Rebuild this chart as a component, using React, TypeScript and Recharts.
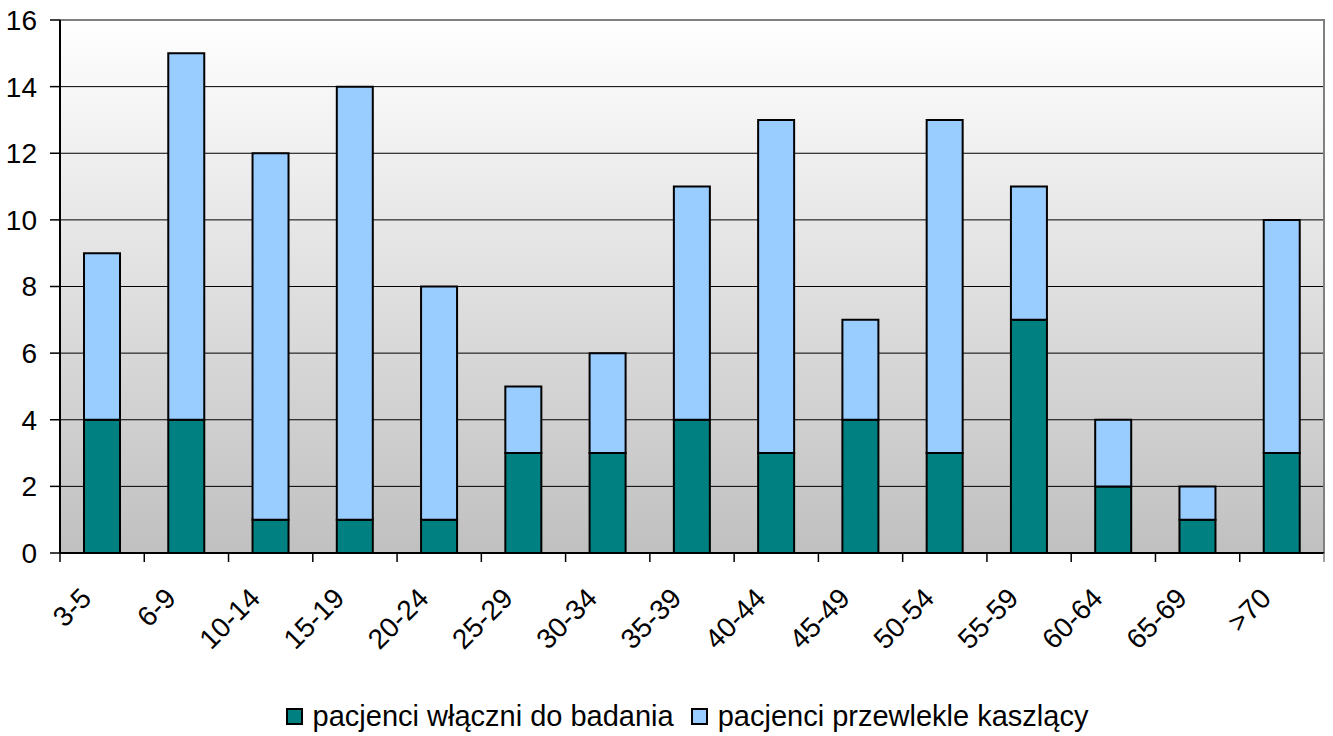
import { Bar, BarChart, CartesianGrid, Legend, ReferenceArea, XAxis, YAxis } from "recharts";

const ageGroups = ["3-5", "6-9", "10-14", "15-19", "20-24", "25-29", "30-34", "35-39", "40-44", "45-49", "50-54", "55-59", "60-64", "65-69", ">70"];
// included patients (bottom, teal)
const included = [4, 4, 1, 1, 1, 3, 3, 4, 3, 4, 3, 7, 2, 1, 3];
// chronic coughers, remainder stacked on top (totals 9,15,12,14,8,5,6,11,13,7,13,11,4,2,10)
const chronic = [5, 11, 11, 13, 7, 2, 3, 7, 10, 3, 10, 4, 2, 1, 7];
const yTicks = [0, 2, 4, 6, 8, 10, 12, 14, 16];

const data = ageGroups.map((g, i) => ({ group: g, included: included[i], chronic: chronic[i] }));

const W = 1333;
const H = 736;
const PLOT_LEFT = 60;
const PLOT_RIGHT = 1324;
const LEGEND_H = 40;
const BAND = (PLOT_RIGHT - PLOT_LEFT) / ageGroups.length;
const FONT = "'Liberation Sans', Arial, sans-serif";

const legendItems = [
  { label: "pacjenci włączni do badania", color: "#008080" },
  { label: "pacjenci przewlekle kaszlący", color: "#99CCFF" },
];

function AgeTick(props: any) {
  const { x, y, payload, index } = props;
  const left = x - BAND / 2;
  const tx = x - 9;
  const ty = y + 47;
  return (
    <g>
      <line x1={left} y1={y} x2={left} y2={y + 9} stroke="#000" strokeWidth={1.5} />
      {index === ageGroups.length - 1 ? (
        <line x1={x + BAND / 2} y1={y} x2={x + BAND / 2} y2={y + 9} stroke="#808080" strokeWidth={1.5} />
      ) : null}
      <text
        x={tx}
        y={ty}
        textAnchor="end"
        transform={`rotate(-45 ${tx} ${ty})`}
        fontSize={28}
        fontFamily={FONT}
        fill="#000"
      >
        {payload.value}
      </text>
    </g>
  );
}

function ChartLegend() {
  return (
    <div
      style={{
        display: "flex",
        justifyContent: "center",
        alignItems: "center",
        gap: 17,
        fontFamily: FONT,
        fontSize: 29,
        color: "#000",
        paddingLeft: 50,
        height: LEGEND_H,
      }}
    >
      {legendItems.map((item) => (
        <span key={item.label} style={{ display: "flex", alignItems: "center" }}>
          <span
            style={{
              display: "inline-block",
              width: 13,
              height: 13,
              background: item.color,
              border: "2px solid #000",
              marginRight: 10,
            }}
          />
          {item.label}
        </span>
      ))}
    </div>
  );
}

export default function App() {
  return (
    <div style={{ position: "absolute", left: 0, top: 0, width: W, height: H, background: "#fff" }}>
      <BarChart width={W} height={H} data={data} margin={{ top: 20, right: W - PLOT_RIGHT, left: 0, bottom: 0 }} barSize={36}>
        <defs>
          <linearGradient id="plotBg" x1="0" y1="0" x2="0" y2="1">
            <stop offset="0%" stopColor="#ffffff" />
            <stop offset="100%" stopColor="#c0c0c0" />
          </linearGradient>
        </defs>
        <CartesianGrid vertical={false} stroke="#000" strokeWidth={1} fill="url(#plotBg)" fillOpacity={1} />
        <ReferenceArea y1={0} y2={16} fill="none" stroke="#808080" strokeWidth={2} ifOverflow="visible" />
        <XAxis
          dataKey="group"
          interval={0}
          tickLine={false}
          tickSize={0}
          tickMargin={0}
          height={183 - LEGEND_H}
          axisLine={{ stroke: "#000", strokeWidth: 2 }}
          tick={<AgeTick />}
        />
        <YAxis
          domain={[0, 16]}
          ticks={yTicks}
          interval={0}
          width={PLOT_LEFT}
          tickSize={10}
          tickMargin={13}
          axisLine={{ stroke: "#000", strokeWidth: 2 }}
          tickLine={{ stroke: "#000", strokeWidth: 1.5 }}
          tick={{ fontSize: 28, fontFamily: FONT, fill: "#000" }}
        />
        <Legend verticalAlign="bottom" content={<ChartLegend />} />
        <Bar dataKey="included" stackId="a" fill="#008080" stroke="#000" strokeWidth={2} isAnimationActive={false} />
        <Bar dataKey="chronic" stackId="a" fill="#99CCFF" stroke="#000" strokeWidth={2} isAnimationActive={false} />
      </BarChart>
    </div>
  );
}
